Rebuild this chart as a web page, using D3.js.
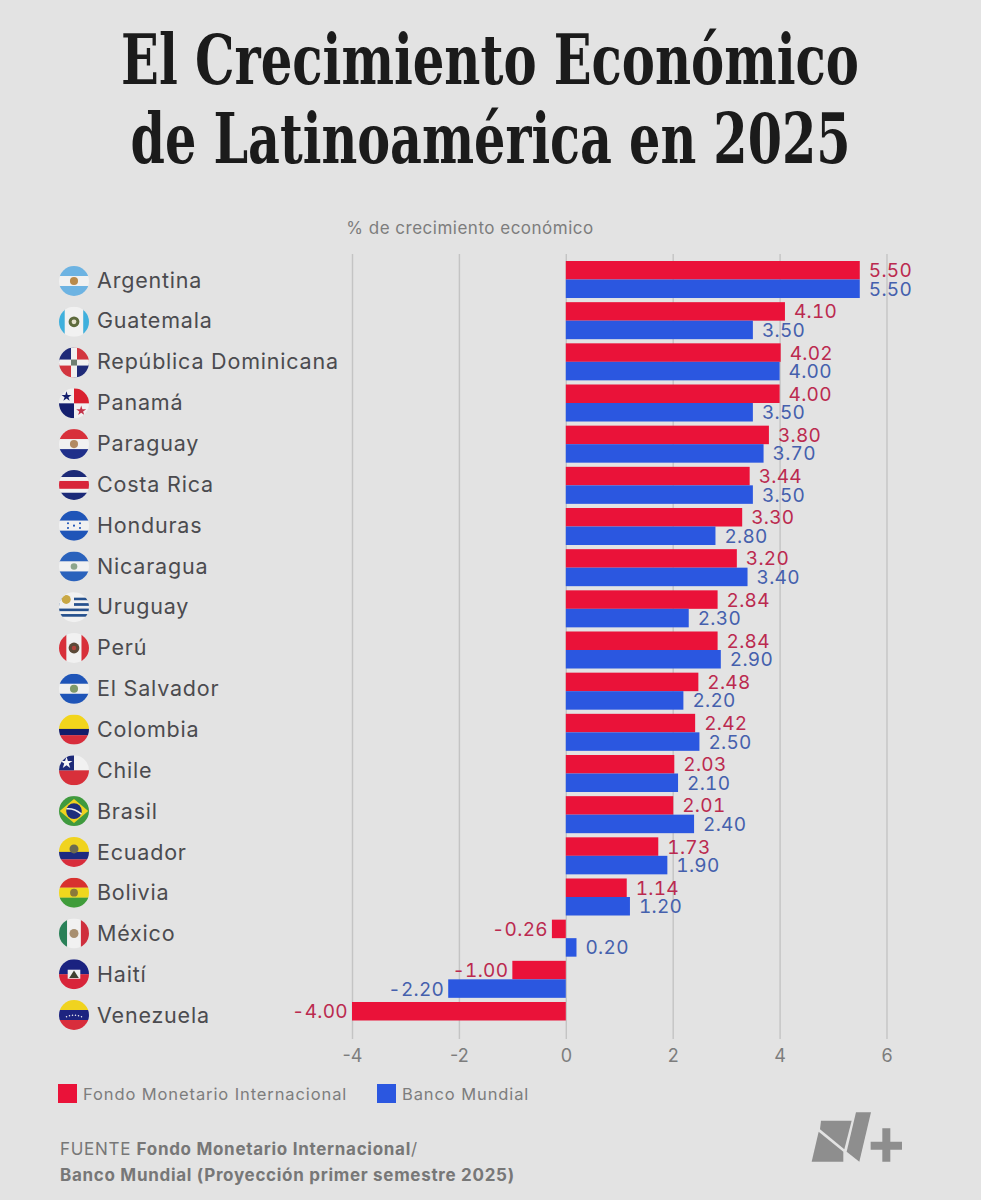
<!DOCTYPE html>
<html>
<head>
<meta charset="utf-8">
<script src="https://cdn.jsdelivr.net/npm/d3@7"></script>
<style>
html, body { margin: 0; padding: 0; background: #e3e3e3; }
svg { display: block; }
</style>
</head>
<body>
<div id="chart"></div>
<script>
// values
var countries = ["Argentina", "Guatemala", "República Dominicana", "Panamá", "Paraguay", "Costa Rica",
    "Honduras", "Nicaragua", "Uruguay", "Perú", "El Salvador", "Colombia", "Chile", "Brasil",
    "Ecuador", "Bolivia", "México", "Haití", "Venezuela"];
var fmi = [5.50, 4.10, 4.02, 4.00, 3.80, 3.44, 3.30, 3.20, 2.84, 2.84, 2.48, 2.42, 2.03, 2.01, 1.73, 1.14, -0.26, -1.00, -4.00];
var bm = [5.50, 3.50, 4.00, 3.50, 3.70, 3.50, 2.80, 3.40, 2.30, 2.90, 2.20, 2.50, 2.10, 2.40, 1.90, 1.20, 0.20, -2.20, null];
var seriesNames = ["Fondo Monetario Internacional", "Banco Mundial"];
var xTicks = [-4, -2, 0, 2, 4, 6];
var titleLines = ["El Crecimiento Económico", "de Latinoamérica en 2025"];
var subtitle = "% de crecimiento económico";

var RED = "#ea1239";
var BLUE = "#2b57e0";
var RED_TEXT = "#bb2a4f";
var BLUE_TEXT = "#4560ad";
var SANS = "Inter, sans-serif";

var w = 981;
var h = 1200;

var svg = d3.select("#chart").append("svg")
    .attr("width", w)
    .attr("height", h);

svg.append("rect").attr("width", w).attr("height", h).attr("fill", "#e3e3e3");

// squeeze a text horizontally so it fills a target width, centred on cx
function fitTo(sel, cx, baseline, target) {
    sel.each(function() {
        var len = this.getComputedTextLength();
        d3.select(this)
            .attr("text-anchor", "middle")
            .attr("transform", "translate(" + cx + "," + baseline + ") scale(" + (target / len) + ",1)");
    });
}

// title
svg.selectAll(".title")
    .data(titleLines)
    .enter()
    .append("text")
    .attr("class", "title")
    .style("font-family", "'DejaVu Serif Condensed', 'DejaVu Serif', serif")
    .style("font-weight", "bold")
    .style("font-size", "69px")
    .style("fill", "#1b1b1b")
    .text(function(d) { return d; })
    .each(function(d, i) {
        if (i == 0) { fitTo(d3.select(this), 490, 84, 738); }
        else { fitTo(d3.select(this), 490.5, 163, 720); }
    });

svg.append("text")
    .attr("x", 470)
    .attr("y", 234)
    .attr("text-anchor", "middle")
    .style("font-family", SANS)
    .style("font-size", "17px")
    .style("letter-spacing", "0.5px")
    .style("fill", "#7d7d7d")
    .text(subtitle);

// scales
var x = d3.scaleLinear().domain([-4, 6]).range([352, 886.5]);
var y = d3.scaleBand().domain(countries).range([261, 1039]).paddingInner(0.101);
var sub = d3.scaleBand().domain(seriesNames).range([0, y.bandwidth()]);
// the names and flags sit on a slightly tighter step than the bars
var labelY = d3.scalePoint().domain(countries).range([280.5, 1016]);
var flagY = d3.scalePoint().domain(countries).range([281, 1015]);

// axis with gridlines
var axis = d3.axisBottom(x)
    .tickValues(xTicks)
    .tickSize(-785)
    .tickPadding(10)
    .tickFormat(function(d) { return String(d); });

var axisG = svg.append("g")
    .attr("transform", "translate(0,1039)")
    .call(axis);
axisG.select(".domain").remove();
axisG.selectAll("line").attr("stroke", "#c4c4c4").attr("stroke-width", 1.4);
axisG.selectAll("text")
    .style("font-family", SANS)
    .style("font-size", "18px")
    .style("fill", "#7d7d7d");

// bars and value labels
var rows = countries.map(function(c, i) {
    return [
        { country: c, series: seriesNames[0], value: fmi[i], color: RED, text: RED_TEXT },
        { country: c, series: seriesNames[1], value: bm[i], color: BLUE, text: BLUE_TEXT }
    ];
}).reduce(function(a, b) { return a.concat(b); }, []).filter(function(d) { return d.value !== null; });

svg.selectAll(".bar")
    .data(rows)
    .enter()
    .append("rect")
    .attr("class", "bar")
    .attr("x", function(d) { return Math.min(x(0), x(d.value)); })
    .attr("y", function(d) { return y(d.country) + sub(d.series); })
    .attr("width", function(d) { return Math.abs(x(d.value) - x(0)); })
    .attr("height", sub.bandwidth())
    .attr("fill", function(d) { return d.color; });

svg.selectAll(".val")
    .data(rows)
    .enter()
    .append("text")
    .attr("class", "val")
    .attr("x", function(d) { return d.value < 0 ? x(d.value) - 4 : x(d.value) + 9; })
    .attr("y", function(d) { return y(d.country) + sub(d.series) + sub.bandwidth() / 2 + 7; })
    .attr("text-anchor", function(d) { return d.value < 0 ? "end" : "start"; })
    .style("font-family", SANS)
    .style("font-size", "19px")
    .style("letter-spacing", "0.3px")
    .style("font-feature-settings", "'tnum'")
    .style("fill", function(d) { return d.text; })
    .text(function(d) { return d.value.toFixed(2); });

// country names
svg.selectAll(".name")
    .data(countries)
    .enter()
    .append("text")
    .attr("class", "name")
    .attr("x", 97)
    .attr("y", function(d) { return labelY(d) + 7; })
    .style("font-family", SANS)
    .style("font-size", "21.5px")
    .style("letter-spacing", "0.8px")
    .style("fill", "#4b4b4f")
    .text(function(d) { return d; });

// ---------------------------FLAGS------------------------
// each flag is drawn in a -1..1 box and clipped to a circle
var W = "#f1f1f1";

svg.append("defs").append("clipPath")
    .attr("id", "flagClip")
    .append("circle")
    .attr("r", 1);

function stripes(g, colors, weights, vertical) {
    var total = d3.sum(weights);
    var pos = -1;
    colors.forEach(function(c, i) {
        var size = 2 * weights[i] / total;
        g.append("rect")
            .attr("x", vertical ? pos : -1)
            .attr("y", vertical ? -1 : pos)
            .attr("width", vertical ? size + 0.01 : 2)
            .attr("height", vertical ? 2 : size + 0.01)
            .attr("fill", c);
        pos += size;
    });
}

function box(g, bx, by, bw, bh, c) {
    g.append("rect").attr("x", bx).attr("y", by).attr("width", bw).attr("height", bh).attr("fill", c);
}

function dot(g, cx, cy, r, c) {
    g.append("circle").attr("cx", cx).attr("cy", cy).attr("r", r).attr("fill", c);
}

function star(g, cx, cy, size, c) {
    g.append("path")
        .attr("transform", "translate(" + cx + "," + cy + ")")
        .attr("d", d3.symbol().type(d3.symbolStar).size(size))
        .attr("fill", c);
}

var flagDraw = {
    "Argentina": function(g) {
        stripes(g, ["#6db3e2", W, "#6db3e2"], [1, 1, 1]);
        dot(g, 0, 0, 0.27, "#b98a4a");
    },
    "Guatemala": function(g) {
        stripes(g, ["#3fb0dd", W, "#3fb0dd"], [1, 3.2, 1], true);
        dot(g, 0, 0, 0.36, "#5d6a3c");
        dot(g, 0, 0, 0.16, "#e4e0cc");
    },
    "República Dominicana": function(g) {
        box(g, -1, -1, 1, 1, "#1f2a78");
        box(g, 0, -1, 1, 1, "#d2353f");
        box(g, -1, 0, 1, 1, "#d2353f");
        box(g, 0, 0, 1, 1, "#1f2a78");
        box(g, -0.2, -1, 0.4, 2, W);
        box(g, -1, -0.2, 2, 0.4, W);
        box(g, -0.2, -0.2, 0.4, 0.4, "#6f7f73");
    },
    "Panamá": function(g) {
        box(g, -1, -1, 2, 2, W);
        box(g, 0, -1, 1, 1, "#d9202f");
        box(g, -1, 0, 1, 1, "#15206e");
        star(g, -0.5, -0.45, 0.14, "#15206e");
        star(g, 0.48, 0.5, 0.14, "#c2344a");
    },
    "Paraguay": function(g) {
        stripes(g, ["#d8303a", W, "#1f2f8a"], [1, 1, 1]);
        dot(g, 0, 0, 0.27, "#b18a62");
    },
    "Costa Rica": function(g) {
        stripes(g, ["#1c2a78", W, "#d8253a", W, "#1c2a78"], [1, 0.55, 1.1, 0.55, 1]);
    },
    "Honduras": function(g) {
        stripes(g, ["#1f55b8", W, "#1f55b8"], [1, 1, 1]);
        [[-0.4, -0.16], [0.4, -0.16], [0, 0], [-0.4, 0.16], [0.4, 0.16]].forEach(function(p) {
            dot(g, p[0], p[1], 0.07, "#1f55b8");
        });
    },
    "Nicaragua": function(g) {
        stripes(g, ["#2a62bc", W, "#2a62bc"], [1, 1, 1]);
        dot(g, 0, 0, 0.22, "#8da58c");
    },
    "Uruguay": function(g) {
        stripes(g, [W, "#26518e", W, "#26518e", W, "#26518e", W, "#26518e", W],
            [1.2, 0.6, 0.6, 0.6, 0.6, 0.6, 0.6, 0.6, 1.2]);
        box(g, -1, -1, 1, 1, W);
        dot(g, -0.52, -0.52, 0.3, "#c9a845");
    },
    "Perú": function(g) {
        stripes(g, ["#d8303a", W, "#d8303a"], [1, 2, 1], true);
        dot(g, 0, 0, 0.36, "#5b4a38");
        dot(g, 0, 0, 0.15, "#b3433b");
    },
    "El Salvador": function(g) {
        stripes(g, ["#1f55b8", W, "#1f55b8"], [1, 1, 1]);
        dot(g, 0, 0, 0.27, "#7f9a6a");
    },
    "Colombia": function(g) {
        stripes(g, ["#f2d51c", "#141c6a", "#d82d3c"], [2.3, 1, 1.5]);
    },
    "Chile": function(g) {
        box(g, -1, -1, 2, 1, W);
        box(g, -1, 0, 2, 1, "#d8303a");
        box(g, -1, -1, 1, 1, "#1d2a78");
        star(g, -0.5, -0.5, 0.2, "#f6f6f6");
    },
    "Brasil": function(g) {
        box(g, -1, -1, 2, 2, "#3f9a3e");
        g.append("polygon").attr("points", "-0.95,0 0,-0.8 0.95,0 0,0.8").attr("fill", "#f0d21e");
        dot(g, 0, 0, 0.52, "#1d2f7c");
        g.append("path").attr("d", "M-0.5,-0.15 Q0,-0.2 0.5,0.2")
            .attr("stroke", W).attr("stroke-width", 0.1).attr("fill", "none");
    },
    "Ecuador": function(g) {
        stripes(g, ["#f0d31f", "#1d2a80", "#d82d3c"], [2, 1, 1]);
        dot(g, 0, -0.2, 0.3, "#6c6a50");
    },
    "Bolivia": function(g) {
        stripes(g, ["#d8312f", "#f0d71e", "#3f9c3a"], [1, 1, 1]);
        dot(g, 0, 0, 0.26, "#8a7a3a");
    },
    "México": function(g) {
        stripes(g, ["#2a8158", W, "#cf2f3d"], [1, 1.7, 1], true);
        dot(g, 0, 0, 0.3, "#a88f70");
    },
    "Haití": function(g) {
        stripes(g, ["#1a2280", "#d8253a"], [1, 1]);
        box(g, -0.42, -0.3, 0.84, 0.6, W);
        g.append("polygon").attr("points", "-0.32,0.25 0,-0.25 0.32,0.25").attr("fill", "#3f4030");
    },
    "Venezuela": function(g) {
        stripes(g, ["#f0d31f", "#1d2480", "#d82d3c"], [1, 1, 1]);
        d3.range(-0.5, 0.51, 0.2).forEach(function(p) {
            dot(g, p, 0.12 - 0.45 * (0.25 - p * p), 0.05, W);
        });
    }
};

svg.selectAll(".flag")
    .data(countries)
    .enter()
    .append("g")
    .attr("class", "flag")
    .attr("transform", function(d) { return "translate(74," + flagY(d) + ") scale(15)"; })
    .attr("clip-path", "url(#flagClip)")
    .each(function(d) { flagDraw[d](d3.select(this)); });

// legend
var legendG = svg.selectAll(".legend")
    .data(seriesNames)
    .enter()
    .append("g")
    .attr("class", "legend")
    .attr("transform", function(d, i) { return "translate(" + (i == 0 ? 58 : 377) + ",1084)"; });

legendG.append("rect")
    .attr("width", 19)
    .attr("height", 19)
    .attr("fill", function(d, i) { return i == 0 ? RED : BLUE; });

legendG.append("text")
    .attr("x", 25)
    .attr("y", 15.5)
    .style("font-family", SANS)
    .style("font-size", "16.5px")
    .style("letter-spacing", "0.9px")
    .style("fill", "#7d7d7d")
    .text(function(d) { return d; });

// source
var source = svg.append("text")
    .attr("x", 60)
    .attr("y", 1155)
    .style("font-family", SANS)
    .style("font-size", "17px")
    .style("letter-spacing", "0.7px")
    .style("fill", "#777777");
source.append("tspan").text("FUENTE ");
source.append("tspan").style("font-weight", "bold").text("Fondo Monetario Internacional");
source.append("tspan").text("/");

svg.append("text")
    .attr("x", 60)
    .attr("y", 1181)
    .style("font-family", SANS)
    .style("font-size", "17px")
    .style("letter-spacing", "0.7px")
    .style("font-weight", "bold")
    .style("fill", "#777777")
    .text("Banco Mundial (Proyección primer semestre 2025)");

// logo, traced in a 3x box
var logo = svg.append("g")
    .attr("transform", "translate(780,1090) scale(0.3333)")
    .attr("fill", "#8e8e8e");
["123,92 215,92 193,178 120,118",
 "116,125 190,185 190,215 95,215",
 "228,67 273,67 238,215 200,185",
 "272,155 307,155 307,115 331,115 331,155 366,155 366,179 331,179 331,215 307,215 307,179 272,179"
].forEach(function(p) {
    logo.append("polygon").attr("points", p);
});
</script>
</body>
</html>
